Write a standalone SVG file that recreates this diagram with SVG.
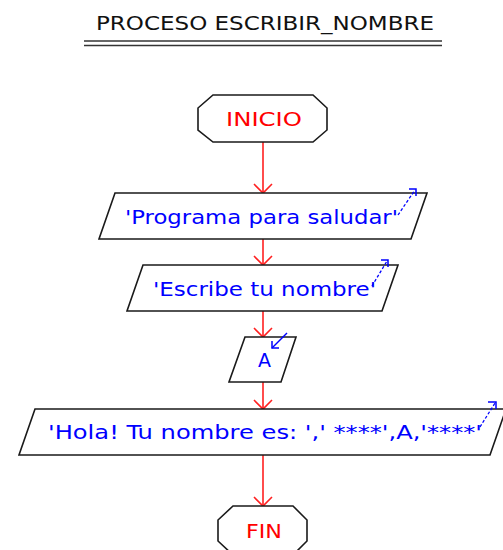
<svg xmlns="http://www.w3.org/2000/svg" width="503" height="550" viewBox="0 0 503 550">
<style>
  .t { font-family: "DejaVu Sans", Verdana, sans-serif; font-size: 19.5px; }
  .title { fill: #111; }
  .term { fill: #ff0000; }
  .io { fill: #0000ff; }
  .shape { fill: #ffffff; stroke: #1a1a1a; stroke-width: 1.6; }
  .conn { fill: none; stroke: #ff2020; stroke-width: 1.6; }
  .out { fill: none; stroke: #0000ff; stroke-width: 1.3; stroke-dasharray: 3 2; }
  .head { fill: none; stroke: #0000ff; stroke-width: 1.5; }
  .in { fill: none; stroke: #0000ff; stroke-width: 1.5; }
  .ul { stroke: #333; stroke-width: 1.4; }
</style>
<defs>
  <marker id="arr" viewBox="-10 -10 20 20" refX="0" refY="0" markerWidth="20" markerHeight="20" markerUnits="userSpaceOnUse" orient="auto">
    <path d="M-9,-9 L0,0 L-9,9" fill="none" stroke="#ff2020" stroke-width="1.6"/>
  </marker>
</defs>
<rect width="503" height="550" fill="#ffffff"/>

<g id="title">
  <text class="t title" x="96" y="30" textLength="338" lengthAdjust="spacingAndGlyphs">PROCESO ESCRIBIR_NOMBRE</text>
  <line class="ul" x1="84" y1="41" x2="442" y2="41"/>
  <line class="ul" x1="84" y1="45.5" x2="442" y2="45.5"/>
</g>

<g id="connectors">
  <line class="conn" x1="263" y1="142" x2="263" y2="193" marker-end="url(#arr)"/>
  <line class="conn" x1="263" y1="239" x2="263" y2="265" marker-end="url(#arr)"/>
  <line class="conn" x1="263" y1="311" x2="263" y2="337" marker-end="url(#arr)"/>
  <line class="conn" x1="263" y1="382" x2="263" y2="409" marker-end="url(#arr)"/>
  <line class="conn" x1="263" y1="455" x2="263" y2="506" marker-end="url(#arr)"/>
</g>

<g id="inicio">
  <polygon class="shape" points="213,95 313,95 327,108 327,130 313,142 213,142 198,130 198,108"/>
  <text class="t term" x="226" y="126" textLength="76" lengthAdjust="spacingAndGlyphs">INICIO</text>
</g>

<g id="out1">
  <polygon class="shape" points="115,193 427,193 411,239 99,239"/>
  <text class="t io" x="125" y="224" textLength="273" lengthAdjust="spacingAndGlyphs">'Programa para saludar'</text>
  <line class="out" x1="398" y1="215" x2="415" y2="190"/>
  <path class="head" d="M409,189 L416,189 L416,196"/>
</g>

<g id="out2">
  <polygon class="shape" points="143,265 398,265 382,311 127,311"/>
  <text class="t io" x="153" y="296" textLength="223" lengthAdjust="spacingAndGlyphs">'Escribe tu nombre'</text>
  <line class="out" x1="372" y1="286" x2="387" y2="261"/>
  <path class="head" d="M381,260 L388,260 L388,267"/>
</g>

<g id="in1">
  <polygon class="shape" points="245,337 296,337 281,382 229,382"/>
  <text class="t io" x="258" y="367" textLength="13" lengthAdjust="spacingAndGlyphs">A</text>
  <line class="in" x1="287" y1="333" x2="272" y2="348"/>
  <path class="head" d="M272,341 L272,348 L279,348"/>
</g>

<g id="out3">
  <polygon class="shape" points="35,409 506,409 490,455 19,455"/>
  <text class="t io" x="48" y="439" textLength="434" lengthAdjust="spacingAndGlyphs">'Hola! Tu nombre es: ',' ****',A,'****'</text>
  <line class="out" x1="480" y1="427" x2="495" y2="403"/>
  <path class="head" d="M488,402 L496,402 L496,409"/>
</g>

<g id="fin">
  <polygon class="shape" points="233,506 293,506 307,520 307,541 293,555 233,555 218,541 218,520"/>
  <text class="t term" x="246" y="538" textLength="36" lengthAdjust="spacingAndGlyphs">FIN</text>
</g>
</svg>
